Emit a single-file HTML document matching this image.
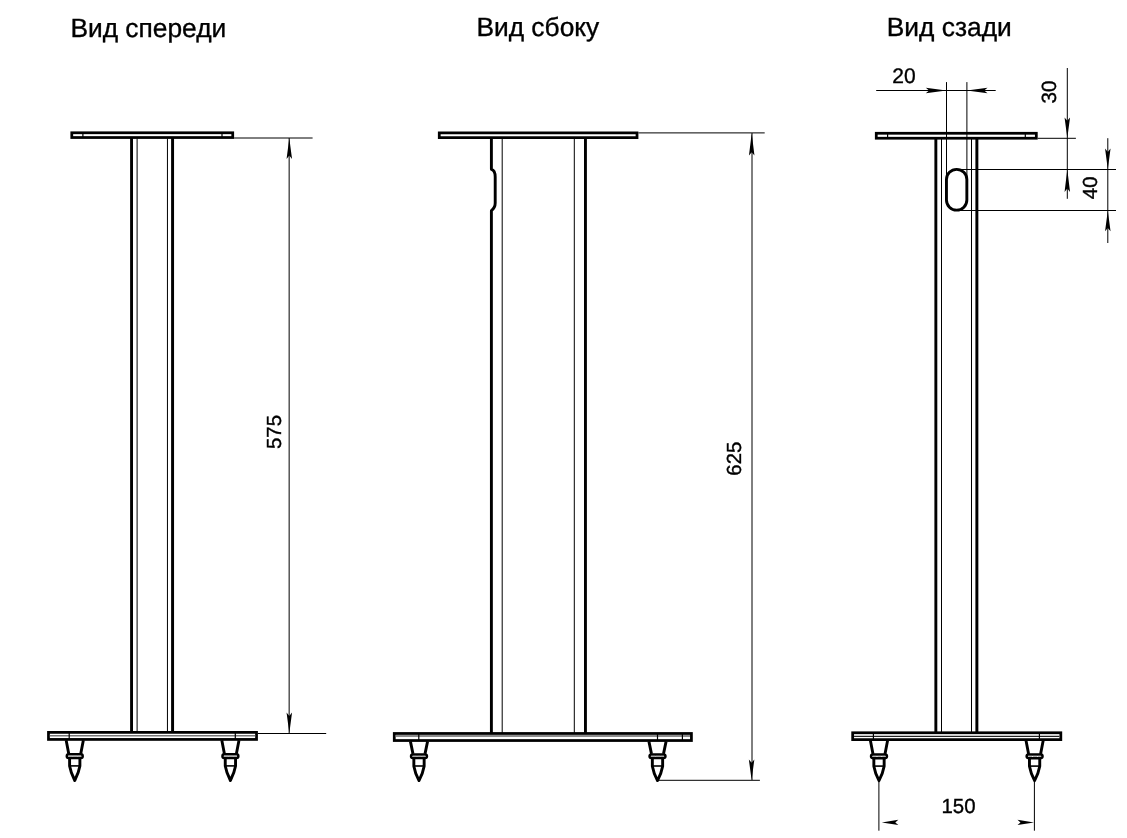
<!DOCTYPE html>
<html lang="ru">
<head>
<meta charset="utf-8">
<title>Стойка — чертёж</title>
<style>
html,body{margin:0;padding:0;background:#fff;}
body{width:1127px;height:838px;overflow:hidden;font-family:"Liberation Sans",Arial,sans-serif;}
svg{display:block;filter:grayscale(1);text-rendering:geometricPrecision;}
</style>
</head>
<body>
<svg width="1127" height="838" viewBox="0 0 1127 838" font-family="'Liberation Sans', Arial, sans-serif" fill="#000">
<rect width="1127" height="838" fill="#fff"/>
<text x="70.4" y="37.0" font-size="26.35" text-anchor="start" stroke="#000" stroke-width="0.35">Вид спереди</text>
<text x="476.4" y="35.9" font-size="26.35" text-anchor="start" stroke="#000" stroke-width="0.35">Вид сбоку</text>
<text x="886.8" y="35.9" font-size="26.35" text-anchor="start" stroke="#000" stroke-width="0.35">Вид сзади</text>
<rect x="130.10" y="137.4" width="2.90" height="595.60" fill="#000"/>
<rect x="171.10" y="137.4" width="2.95" height="595.60" fill="#000"/>
<line x1="137.1" y1="138.4" x2="137.1" y2="732.0" stroke="#000" stroke-width="1"/>
<line x1="167.45" y1="138.4" x2="167.45" y2="732.0" stroke="#000" stroke-width="1"/>
<rect x="71.78" y="132.78" width="160.95" height="4.75" fill="#fff" stroke="#000" stroke-width="2.75"/>
<line x1="82.9" y1="132.78" x2="82.9" y2="137.53" stroke="#000" stroke-width="1.2"/>
<line x1="222.0" y1="132.78" x2="222.0" y2="137.53" stroke="#000" stroke-width="1.2"/>
<g fill="none" stroke="#000" stroke-width="2.9" stroke-linejoin="round" stroke-linecap="butt">
<path d="M66.15,740.30 L68.75,753.80 M83.35,740.30 L80.75,753.80"/>
<rect x="66.80" y="754.35" width="15.9" height="3.6" rx="1.8" ry="1.8" fill="#fff" stroke-width="2.5"/>
<path d="M69.60,758.80 L69.60,766.10 Q70.75,772.80 74.75,780.50 Q78.75,772.80 79.90,766.10 L79.90,758.80"/>
</g>
<line x1="69.75" y1="765.90" x2="79.75" y2="765.90" stroke="#000" stroke-width="1.6"/>
<line x1="68.35" y1="756.15" x2="81.15" y2="756.15" stroke="#999" stroke-width="0.9" stroke-dasharray="4 0.8"/>
<g fill="none" stroke="#000" stroke-width="2.9" stroke-linejoin="round" stroke-linecap="butt">
<path d="M221.80,740.30 L224.40,753.80 M239.00,740.30 L236.40,753.80"/>
<rect x="222.45" y="754.35" width="15.9" height="3.6" rx="1.8" ry="1.8" fill="#fff" stroke-width="2.5"/>
<path d="M225.25,758.80 L225.25,766.10 Q226.40,772.80 230.40,780.50 Q234.40,772.80 235.55,766.10 L235.55,758.80"/>
</g>
<line x1="225.40" y1="765.90" x2="235.40" y2="765.90" stroke="#000" stroke-width="1.6"/>
<line x1="224.00" y1="756.15" x2="236.80" y2="756.15" stroke="#999" stroke-width="0.9" stroke-dasharray="4 0.8"/>
<rect x="48.48" y="732.38" width="208.05" height="7.05" fill="#fff" stroke="#000" stroke-width="2.75"/>
<line x1="49.85" y1="735.8" x2="255.15" y2="735.8" stroke="#777" stroke-width="1.4"/>
<line x1="69.2" y1="732.38" x2="69.2" y2="739.42" stroke="#000" stroke-width="1.2"/>
<line x1="235.3" y1="732.38" x2="235.3" y2="739.42" stroke="#000" stroke-width="1.2"/>
<line x1="234.1" y1="138.0" x2="312.6" y2="138.0" stroke="#000" stroke-width="1"/>
<line x1="257.9" y1="733.5" x2="326.2" y2="733.5" stroke="#000" stroke-width="1"/>
<line x1="289.15" y1="138" x2="289.15" y2="733.5" stroke="#000" stroke-width="1"/>
<polygon points="289.30,138.30 286.55,158.90 289.30,155.60 292.05,158.90" fill="#000"/>
<polygon points="289.30,733.20 286.55,712.60 289.30,715.90 292.05,712.60" fill="#000"/>
<text x="280.8" y="432" font-size="20.4" text-anchor="middle" transform="rotate(-90 280.8 432)" stroke="#000" stroke-width="0.35">575</text>
<path d="M491.4,137.5 L491.4,169.3 C493.5,169.8 495.2,172.5 495.2,177 L495.2,203 C495.2,207 493.5,209 491.4,210.6 L491.4,733.1" fill="none" stroke="#000" stroke-width="2.9" stroke-linejoin="round"/>
<rect x="584.0" y="137.5" width="2.9" height="596.60" fill="#000"/>
<line x1="502.2" y1="138.5" x2="502.2" y2="733.1" stroke="#000" stroke-width="1"/>
<line x1="574.3" y1="138.5" x2="574.3" y2="733.1" stroke="#000" stroke-width="1"/>
<rect x="439.27" y="132.88" width="197.75" height="4.75" fill="#fff" stroke="#000" stroke-width="2.75"/>
<g fill="none" stroke="#000" stroke-width="2.9" stroke-linejoin="round" stroke-linecap="butt">
<path d="M410.40,741.40 L413.00,753.90 M427.60,741.40 L425.00,753.90"/>
<rect x="411.05" y="754.45" width="15.9" height="3.6" rx="1.8" ry="1.8" fill="#fff" stroke-width="2.5"/>
<path d="M413.85,758.90 L413.85,766.20 Q415.00,772.90 419.00,780.60 Q423.00,772.90 424.15,766.20 L424.15,758.90"/>
</g>
<line x1="414.00" y1="766.00" x2="424.00" y2="766.00" stroke="#000" stroke-width="1.6"/>
<line x1="412.60" y1="756.25" x2="425.40" y2="756.25" stroke="#999" stroke-width="0.9" stroke-dasharray="4 0.8"/>
<g fill="none" stroke="#000" stroke-width="2.9" stroke-linejoin="round" stroke-linecap="butt">
<path d="M648.90,741.40 L651.50,753.90 M666.10,741.40 L663.50,753.90"/>
<rect x="649.55" y="754.45" width="15.9" height="3.6" rx="1.8" ry="1.8" fill="#fff" stroke-width="2.5"/>
<path d="M652.35,758.90 L652.35,766.20 Q653.50,772.90 657.50,780.60 Q661.50,772.90 662.65,766.20 L662.65,758.90"/>
</g>
<line x1="652.50" y1="766.00" x2="662.50" y2="766.00" stroke="#000" stroke-width="1.6"/>
<line x1="651.10" y1="756.25" x2="663.90" y2="756.25" stroke="#999" stroke-width="0.9" stroke-dasharray="4 0.8"/>
<rect x="394.27" y="733.48" width="297.15" height="7.05" fill="#fff" stroke="#000" stroke-width="2.75"/>
<line x1="395.65" y1="736.0" x2="690.05" y2="736.0" stroke="#666" stroke-width="1.4"/>
<line x1="418.8" y1="733.48" x2="418.8" y2="740.52" stroke="#000" stroke-width="1.2"/>
<line x1="657.5" y1="733.48" x2="657.5" y2="740.52" stroke="#000" stroke-width="1.2"/>
<line x1="682.4" y1="733.48" x2="682.4" y2="740.52" stroke="#000" stroke-width="1.2"/>
<line x1="638.4" y1="132.9" x2="764.7" y2="132.9" stroke="#000" stroke-width="1"/>
<line x1="659" y1="780.3" x2="759.9" y2="780.3" stroke="#000" stroke-width="1"/>
<line x1="752.0" y1="133" x2="752.0" y2="780" stroke="#000" stroke-width="1"/>
<polygon points="751.70,133.30 748.95,155.60 751.70,152.30 754.45,155.60" fill="#000"/>
<polygon points="751.60,780.00 748.85,759.40 751.60,762.70 754.35,759.40" fill="#000"/>
<text x="741.4" y="458.6" font-size="20.4" text-anchor="middle" transform="rotate(-90 741.4 458.6)" stroke="#000" stroke-width="0.35">625</text>
<rect x="934.40" y="137.9" width="2.90" height="595.50" fill="#000"/>
<rect x="975.40" y="137.9" width="2.95" height="595.50" fill="#000"/>
<line x1="941.5" y1="138.9" x2="941.5" y2="732.4" stroke="#000" stroke-width="1"/>
<line x1="971.5" y1="138.9" x2="971.5" y2="732.4" stroke="#000" stroke-width="1"/>
<rect x="876.27" y="133.28" width="160.05" height="4.95" fill="#fff" stroke="#000" stroke-width="2.75"/>
<line x1="887.6" y1="133.28" x2="887.6" y2="138.22" stroke="#000" stroke-width="1.2"/>
<line x1="1025.3" y1="133.28" x2="1025.3" y2="138.22" stroke="#000" stroke-width="1.2"/>
<g fill="none" stroke="#000" stroke-width="2.9" stroke-linejoin="round" stroke-linecap="butt">
<path d="M870.40,740.50 L873.00,754.00 M887.60,740.50 L885.00,754.00"/>
<rect x="871.05" y="754.55" width="15.9" height="3.6" rx="1.8" ry="1.8" fill="#fff" stroke-width="2.5"/>
<path d="M873.85,759.00 L873.85,766.30 Q875.00,773.00 879.00,780.70 Q883.00,773.00 884.15,766.30 L884.15,759.00"/>
</g>
<line x1="874.00" y1="766.10" x2="884.00" y2="766.10" stroke="#000" stroke-width="1.6"/>
<line x1="872.60" y1="756.35" x2="885.40" y2="756.35" stroke="#999" stroke-width="0.9" stroke-dasharray="4 0.8"/>
<g fill="none" stroke="#000" stroke-width="2.9" stroke-linejoin="round" stroke-linecap="butt">
<path d="M1026.00,740.50 L1028.60,754.00 M1043.20,740.50 L1040.60,754.00"/>
<rect x="1026.65" y="754.55" width="15.9" height="3.6" rx="1.8" ry="1.8" fill="#fff" stroke-width="2.5"/>
<path d="M1029.45,759.00 L1029.45,766.30 Q1030.60,773.00 1034.60,780.70 Q1038.60,773.00 1039.75,766.30 L1039.75,759.00"/>
</g>
<line x1="1029.60" y1="766.10" x2="1039.60" y2="766.10" stroke="#000" stroke-width="1.6"/>
<line x1="1028.20" y1="756.35" x2="1041.00" y2="756.35" stroke="#999" stroke-width="0.9" stroke-dasharray="4 0.8"/>
<rect x="852.67" y="732.77" width="208.15" height="6.85" fill="#fff" stroke="#000" stroke-width="2.75"/>
<line x1="854.05" y1="736.4" x2="1059.45" y2="736.4" stroke="#222" stroke-width="1.4"/>
<line x1="873.4" y1="732.77" x2="873.4" y2="739.62" stroke="#000" stroke-width="1.2"/>
<line x1="1039.4" y1="732.77" x2="1039.4" y2="739.62" stroke="#000" stroke-width="1.2"/>
<rect x="946.45" y="169.35" width="20.4" height="40.8" rx="10.2" ry="10.2" fill="none" stroke="#000" stroke-width="2.9"/>
<line x1="946.5" y1="82.1" x2="946.5" y2="179" stroke="#000" stroke-width="1"/>
<line x1="966.9" y1="82.1" x2="966.9" y2="179" stroke="#000" stroke-width="1"/>
<line x1="876.2" y1="90.5" x2="995.7" y2="90.5" stroke="#000" stroke-width="1"/>
<polygon points="946.40,90.50 925.80,87.75 929.10,90.50 925.80,93.25" fill="#000"/>
<polygon points="966.90,90.50 987.50,87.75 984.20,90.50 987.50,93.25" fill="#000"/>
<text x="904" y="83" font-size="21" text-anchor="middle" stroke="#000" stroke-width="0.35">20</text>
<line x1="1037.7" y1="138.3" x2="1075.9" y2="138.3" stroke="#000" stroke-width="1"/>
<line x1="957" y1="169.5" x2="1116" y2="169.5" stroke="#000" stroke-width="1"/>
<line x1="957" y1="210.5" x2="1116" y2="210.5" stroke="#000" stroke-width="1"/>
<line x1="1067.3" y1="68" x2="1067.3" y2="198.8" stroke="#000" stroke-width="1"/>
<polygon points="1067.30,138.00 1064.55,117.40 1067.30,120.70 1070.05,117.40" fill="#000"/>
<polygon points="1067.30,169.60 1064.55,191.90 1067.30,188.60 1070.05,191.90" fill="#000"/>
<line x1="1107.8" y1="138.2" x2="1107.8" y2="243" stroke="#000" stroke-width="1"/>
<polygon points="1107.80,169.20 1105.05,148.60 1107.80,151.90 1110.55,148.60" fill="#000"/>
<polygon points="1107.80,210.70 1105.05,231.30 1107.80,228.00 1110.55,231.30" fill="#000"/>
<text x="1056.3" y="92" font-size="20.6" text-anchor="middle" transform="rotate(-90 1056.3 92)" stroke="#000" stroke-width="0.35">30</text>
<text x="1096.8" y="187.8" font-size="20.4" text-anchor="middle" transform="rotate(-90 1096.8 187.8)" stroke="#000" stroke-width="0.35">40</text>
<line x1="878.9" y1="781.5" x2="878.9" y2="830.7" stroke="#000" stroke-width="1"/>
<line x1="1034.4" y1="781.5" x2="1034.4" y2="830.7" stroke="#000" stroke-width="1"/>
<polygon points="881.80,822.40 898.30,819.70 895.30,822.40 898.30,825.10" fill="#000"/>
<polygon points="1034.00,822.40 1017.50,819.70 1020.50,822.40 1017.50,825.10" fill="#000"/>
<text x="958.5" y="813.3" font-size="20.4" text-anchor="middle" stroke="#000" stroke-width="0.35">150</text>
</svg>
</body>
</html>
